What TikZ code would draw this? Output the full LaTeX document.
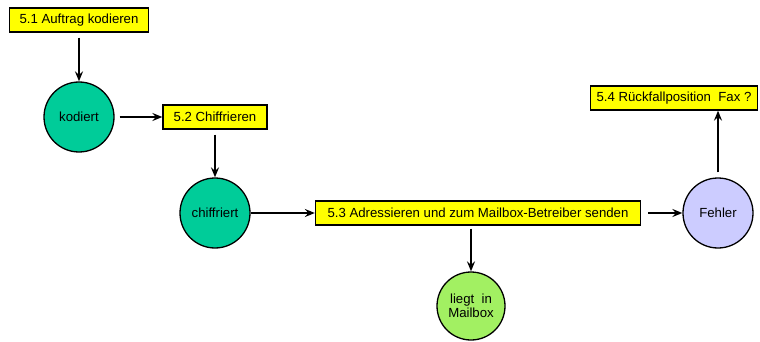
\documentclass[tikz,border=0pt]{standalone}
\usepackage{fontspec}
\setmainfont{Liberation Sans}
\usepackage{xcolor}
\usetikzlibrary{arrows.meta}

\definecolor{stepyellow}{RGB}{255,255,0}
\definecolor{stategreen}{RGB}{0,204,153}
\definecolor{mailgreen}{RGB}{162,240,98}
\definecolor{errorblue}{RGB}{204,204,255}

\begin{document}
\begin{tikzpicture}[x=1pt, y=-1pt,
    every node/.style={font=\fontsize{13.2}{14}\selectfont},
    stepbox/.style={rectangle, draw, line width=1.3pt, fill=stepyellow, minimum height=24pt, inner xsep=2pt},
    state/.style={circle, draw, line width=1.3pt, minimum size=70pt, inner sep=0pt, align=center},
    flow/.style={-{Stealth[length=10pt,width=8pt,inset=3.5pt]}, line width=1.5pt, shorten <=5pt}]
                \useasboundingbox (0,0) rectangle (760,342);

                % Nodes
                \node[stepbox, minimum width=139pt] (auftrag) at (79, 20) {5.1 Auftrag kodieren};   % Step
                \node[state, fill=stategreen] (kodiert) at (79, 117) {kodiert};                      % State
                \node[stepbox, minimum width=104pt] (chiffrieren) at (215, 117) {5.2 Chiffrieren};  % Step
                \node[state, fill=stategreen] (chiffriert) at (215, 213) {chiffriert};               % State
                \node[stepbox, minimum width=325pt] (senden) at (478, 213) {5.3 Adressieren und zum Mailbox-Betreiber senden}; % Step
                \node[state, fill=mailgreen, minimum size=68pt] (mailbox) at (471, 306) {liegt~~in\\Mailbox}; % State
                \node[state, fill=errorblue] (fehler) at (718, 213) {Fehler};                        % State
                \node[stepbox, minimum width=167pt] (fax) at (674, 98) {5.4 Rückfallposition~~Fax ?}; % Step

                % Edges
                \draw[flow] (auftrag) -- (kodiert);
                \draw[flow] (kodiert) -- (chiffrieren);
                \draw[flow] (chiffrieren) -- (chiffriert);
                \draw[flow, shorten <=0pt] (chiffriert) -- (senden);
                \draw[flow, shorten <=3pt] (senden.south -| mailbox.north) -- (mailbox);
                \draw[flow, shorten <=7pt] (senden) -- (fehler);
                \draw[flow] (fehler) -- (fax.south -| fehler.north);
            \end{tikzpicture}
\end{document}
